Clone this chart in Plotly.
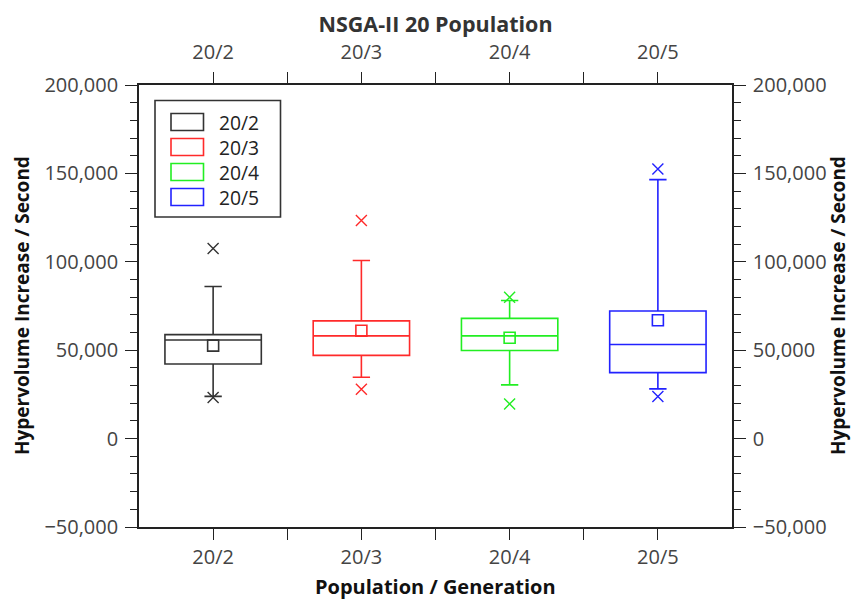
import plotly.graph_objects as go

categories = ["20/2", "20/3", "20/4", "20/5"]
colors = ["#333333", "#ff2a2a", "#22ee22", "#2222ff"]
q1 = [42200, 47100, 49800, 37300]
median = [55800, 58100, 58100, 53200]
q3 = [58800, 66600, 68000, 72200]
whisker_low = [23900, 34700, 30400, 28100]
whisker_high = [86000, 100700, 78100, 146500]
mean = [52600, 61000, 57000, 66900]
x_low = [23200, 27900, 19600, 23800]
x_high = [107500, 123300, 79900, 152500]

FONT = "Open Sans"
TICKC = "#444444"

# page body has an 8px margin; figure is placed to compensate
OFF = 8
W, H = 859 - OFF, 604 - OFF
L, R, T, B = 139, 732, 85, 527  # plot-area edges in window pixels

fig = go.Figure()
xs = list(range(len(categories)))
for i, cat in enumerate(categories):
    fig.add_trace(go.Box(
        x=[xs[i]], q1=[q1[i]], median=[median[i]], q3=[q3[i]],
        lowerfence=[whisker_low[i]], upperfence=[whisker_high[i]],
        width=0.65, whiskerwidth=0.18, line=dict(color=colors[i], width=1.6),
        fillcolor="rgba(0,0,0,0)", boxpoints=False, name=cat, showlegend=False,
        hoverinfo="skip"))
    fig.add_trace(go.Scatter(
        x=[xs[i]], y=[mean[i]], mode="markers", showlegend=False,
        marker=dict(symbol="square-open", size=11, color=colors[i], line=dict(width=1.6, color=colors[i]))))
    fig.add_trace(go.Scatter(
        x=[xs[i], xs[i]], y=[x_low[i], x_high[i]], mode="markers", showlegend=False,
        marker=dict(symbol="x-thin-open", size=11, color=colors[i], line=dict(width=1.4, color=colors[i]))))

def px(x):
    return (x - L) / (R - L)
def py(y):
    return (B - y) / (B - T)

# legend drawn in paper coordinates
fig.add_shape(type="rect", xref="paper", yref="paper", x0=px(155), x1=px(280.5), y0=py(217), y1=py(100.5),
              line=dict(color="#333333", width=1.6), fillcolor="white", layer="above")
for i, cat in enumerate(categories):
    yc = 122 + 25 * i
    fig.add_shape(type="rect", xref="paper", yref="paper", x0=px(171), x1=px(203.5), y0=py(yc + 8.5), y1=py(yc - 8.5),
                  line=dict(color=colors[i], width=1.6), layer="above")
fig.add_annotation(xref="paper", yref="paper", x=px(217), y=py(122 + 25 * 1.5), text="<br>".join(categories),
                   showarrow=False, align="left", xanchor="left", yanchor="middle",
                   font=dict(family=FONT, size=19.3, color="#222222"))

# axis titles
YT = "<b>Hypervolume Increase / Second</b>"
ytfont = dict(family=FONT, size=19, color="#111111")
for xc in (22, 838):
    fig.add_annotation(xref="paper", yref="paper", x=px(xc), y=py((T + B) / 2), text=YT, textangle=-90,
                       showarrow=False, xanchor="center", yanchor="middle", font=ytfont)
fig.add_annotation(xref="paper", yref="paper", x=0.5, y=py(586), text="<b>Population / Generation</b>",
                   showarrow=False, xanchor="center", yanchor="middle",
                   font=dict(family=FONT, size=20, color="#111111"))

tickvals_x = [0, 0.5, 1, 1.5, 2, 2.5, 3]
ticktext_x = ["20/2", "", "20/3", "", "20/4", "", "20/5"]
xcommon = dict(range=[-0.5, 3.5], tickmode="array", tickvals=tickvals_x, ticktext=ticktext_x,
               ticks="outside", ticklen=11, tickwidth=1.3, tickcolor="#222222",
               showline=True, linecolor="#222222", linewidth=1.6, showgrid=False, zeroline=False,
               tickfont=dict(family=FONT, size=20, color=TICKC))
ycommon = dict(range=[-50000, 200000], tickmode="linear", tick0=0, dtick=50000, tickformat=",d",
               ticks="outside", ticklen=12, tickwidth=1.3, tickcolor="#222222", ticklabelstandoff=3,
               minor=dict(tick0=0, dtick=10000, ticks="outside", ticklen=7, tickwidth=1.3, tickcolor="#222222", showgrid=False),
               showline=True, linecolor="#222222", linewidth=1.6, showgrid=False, zeroline=False,
               tickfont=dict(family=FONT, size=20, color=TICKC))

fig.update_layout(
    width=W, height=H,
    margin=dict(l=L - OFF, r=(W + OFF) - R, t=T - OFF, b=(H + OFF) - B, autoexpand=False),
    paper_bgcolor="white", plot_bgcolor="white",
    showlegend=False,
    title=dict(text="<b>NSGA-II 20 Population</b>", x=0.5, xref="paper", xanchor="center",
               y=1 - (24 - OFF) / H, yanchor="middle", font=dict(family=FONT, size=21.5, color="#333333")),
    xaxis=dict(**xcommon),
    xaxis2=dict(**xcommon, overlaying="x", side="top", ticklabelstandoff=5),
    yaxis=dict(**ycommon),
    yaxis2=dict(**ycommon, overlaying="y", side="right"),
    boxmode="overlay",
)
fig.add_trace(go.Scatter(x=[None], y=[None], xaxis="x2", yaxis="y2", showlegend=False))

fig.write_html("out.html")
